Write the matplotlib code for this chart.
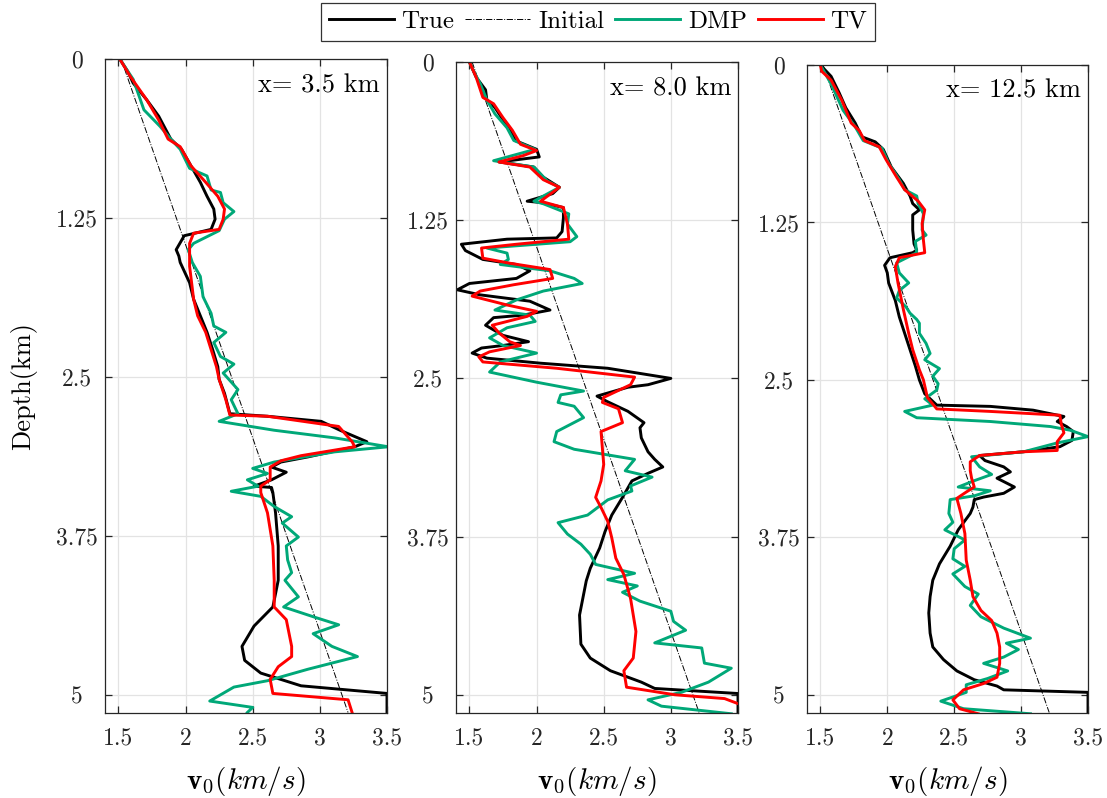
import matplotlib
matplotlib.use('Agg')
import matplotlib.pyplot as plt

plt.rcParams['font.family'] = ['cmr10', 'DejaVu Serif']
plt.rcParams['mathtext.fontset'] = 'cm'
plt.rcParams['axes.formatter.use_mathtext'] = True

# ---- data: depth (km) / velocity (km/s) per profile ----
titles = ['x= 3.5 km', 'x= 8.0 km', 'x= 12.5 km']
xticks = [1.5, 2, 2.5, 3, 3.5]
xticklabels = ['1.5', '2', '2.5', '3', '3.5']
yticks = [0, 1.25, 2.5, 3.75, 5]
yticklabels = ['0', '1.25', '2.5', '3.75', '5']

init_d = [0.0, 5.14]
init_v = [1.52, 3.21]

# x = 3.5 km
d1_true = [0.00, 0.10, 0.19, 0.32, 0.45, 0.63, 0.71, 0.84, 0.97, 1.08, 1.18, 1.26, 1.34, 1.39, 1.50, 1.55, 1.60,
           1.76, 1.89, 2.02, 2.15, 2.28, 2.42, 2.52, 2.63, 2.79, 2.81, 2.85, 2.92, 3.01, 3.05, 3.13, 3.17, 3.21,
           3.25, 3.31, 3.36, 3.37, 3.41, 3.57, 3.83, 4.10, 4.31, 4.46, 4.62, 4.73, 4.83, 4.93, 4.99, 5.14]
v1_true = [1.51, 1.57, 1.61, 1.71, 1.80, 1.89, 1.97, 2.04, 2.11, 2.16, 2.21, 2.22, 2.19, 1.99, 1.93, 1.95, 1.96,
           2.03, 2.06, 2.11, 2.16, 2.20, 2.24, 2.25, 2.29, 2.33, 2.61, 3.01, 3.15, 3.35, 3.26, 2.91, 2.71, 2.64,
           2.75, 2.64, 2.51, 2.64, 2.65, 2.67, 2.69, 2.69, 2.65, 2.51, 2.42, 2.44, 2.56, 2.86, 3.50, 3.50]
d1_dmp = [0.00, 0.16, 0.40, 0.53, 0.63, 0.71, 0.86, 0.92, 1.03, 1.05, 1.13, 1.20, 1.26, 1.35, 1.45, 1.50, 1.60,
          1.71, 1.87, 2.00, 2.10, 2.15, 2.23, 2.34, 2.40, 2.47, 2.60, 2.68, 2.79, 2.85, 2.92, 2.98, 3.05, 3.09,
          3.17, 3.22, 3.26, 3.31, 3.36, 3.40, 3.44, 3.52, 3.60, 3.65, 3.76, 3.83, 3.94, 4.04, 4.10, 4.23, 4.31,
          4.39, 4.45, 4.52, 4.62, 4.70, 4.80, 4.89, 4.94, 5.05, 5.10, 5.14]
v1_dmp = [1.51, 1.61, 1.69, 1.81, 1.89, 1.96, 2.03, 2.16, 2.19, 2.26, 2.28, 2.36, 2.29, 2.25, 2.06, 2.02, 2.05,
          2.11, 2.13, 2.19, 2.21, 2.30, 2.21, 2.26, 2.36, 2.28, 2.39, 2.34, 2.39, 2.25, 2.66, 3.11, 3.51, 3.11,
          2.66, 2.50, 2.61, 2.46, 2.54, 2.34, 2.56, 2.66, 2.79, 2.72, 2.84, 2.75, 2.76, 2.79, 2.74, 2.84, 2.73,
          2.96, 3.14, 2.95, 3.09, 3.28, 2.91, 2.61, 2.36, 2.18, 2.50, 2.46]
d1_tv = [0.00, 0.14, 0.32, 0.48, 0.63, 0.69, 0.84, 0.97, 1.08, 1.18, 1.26, 1.34, 1.37, 1.45, 1.63, 1.89, 2.02,
         2.15, 2.42, 2.52, 2.68, 2.80, 2.81, 2.89, 3.01, 3.05, 3.12, 3.16, 3.21, 3.31, 3.36, 3.41, 3.57, 3.83,
         4.10, 4.31, 4.41, 4.62, 4.70, 4.78, 4.88, 4.99, 5.04, 5.14]
v1_tv = [1.51, 1.59, 1.71, 1.80, 1.87, 1.96, 2.04, 2.15, 2.24, 2.29, 2.28, 2.25, 2.06, 2.03, 2.03, 2.06, 2.09,
         2.15, 2.23, 2.25, 2.30, 2.33, 2.61, 3.14, 3.24, 3.26, 2.86, 2.71, 2.63, 2.63, 2.56, 2.56, 2.61, 2.65,
         2.66, 2.66, 2.75, 2.79, 2.79, 2.69, 2.63, 2.65, 3.21, 3.24]

# x = 8.0 km
d2_true = [0.00, 0.12, 0.22, 0.30, 0.36, 0.44, 0.52, 0.62, 0.69, 0.75, 0.79, 0.83, 0.91, 0.99, 1.04, 1.10, 1.11,
           1.15, 1.23, 1.34, 1.39, 1.40, 1.44, 1.49, 1.56, 1.60, 1.65, 1.71, 1.75, 1.80, 1.84, 1.89, 1.96, 2.00,
           2.02, 2.08, 2.16, 2.21, 2.24, 2.26, 2.30, 2.34, 2.38, 2.42, 2.50, 2.55, 2.57, 2.64, 2.68, 2.76, 2.85,
           2.89, 2.97, 3.08, 3.14, 3.20, 3.25, 3.31, 3.44, 3.58, 3.71, 3.84, 4.00, 4.10, 4.37, 4.60, 4.71, 4.81,
           4.90, 4.95, 4.99, 5.15]
v2_true = [1.50, 1.55, 1.62, 1.63, 1.69, 1.74, 1.80, 1.84, 2.00, 2.02, 1.72, 1.98, 2.05, 2.17, 2.12, 1.93, 2.03,
           2.20, 2.20, 2.19, 2.15, 1.78, 1.44, 1.47, 1.60, 1.85, 1.95, 1.85, 1.50, 1.41, 1.58, 1.95, 2.10, 1.90,
           1.68, 1.62, 1.75, 1.94, 1.75, 1.59, 1.52, 1.63, 2.03, 2.53, 3.00, 2.83, 2.68, 2.45, 2.52, 2.68, 2.80,
           2.77, 2.78, 2.83, 2.88, 2.94, 2.83, 2.71, 2.64, 2.56, 2.51, 2.47, 2.40, 2.37, 2.32, 2.33, 2.40, 2.55,
           2.78, 2.88, 3.50, 3.50]
d2_dmp = [0.00, 0.07, 0.17, 0.30, 0.41, 0.52, 0.62, 0.69, 0.78, 0.83, 0.94, 0.99, 1.10, 1.12, 1.20, 1.28, 1.38,
          1.42, 1.47, 1.51, 1.56, 1.60, 1.65, 1.71, 1.75, 1.81, 1.88, 1.96, 2.00, 2.05, 2.10, 2.18, 2.24, 2.30,
          2.37, 2.45, 2.53, 2.60, 2.63, 2.69, 2.72, 2.81, 2.92, 3.00, 3.06, 3.14, 3.23, 3.28, 3.35, 3.39, 3.46,
          3.58, 3.64, 3.73, 3.81, 3.89, 3.97, 4.04, 4.09, 4.14, 4.19, 4.26, 4.34, 4.42, 4.49, 4.59, 4.63, 4.75,
          4.79, 4.90, 4.98, 5.04, 5.09, 5.15]
v2_dmp = [1.50, 1.53, 1.58, 1.63, 1.69, 1.78, 1.83, 1.99, 1.68, 1.98, 2.08, 2.17, 1.98, 2.05, 2.24, 2.23, 2.30,
          2.25, 1.63, 1.78, 1.79, 1.73, 2.10, 2.28, 2.34, 2.05, 1.85, 1.69, 1.95, 1.99, 1.78, 1.65, 1.75, 2.00,
          1.73, 1.65, 2.00, 2.35, 2.18, 2.16, 2.28, 2.35, 2.15, 2.13, 2.28, 2.73, 2.66, 2.86, 2.70, 2.71, 2.53,
          2.38, 2.16, 2.23, 2.33, 2.40, 2.44, 2.73, 2.53, 2.75, 2.64, 2.77, 3.00, 3.02, 3.11, 2.88, 3.23, 3.25,
          3.45, 3.28, 3.08, 2.83, 2.93, 3.45]
d2_tv = [0.00, 0.12, 0.28, 0.33, 0.44, 0.54, 0.65, 0.70, 0.74, 0.79, 0.83, 0.93, 0.99, 1.10, 1.15, 1.28, 1.40,
         1.44, 1.47, 1.55, 1.59, 1.64, 1.71, 1.76, 1.81, 1.85, 1.92, 1.97, 2.01, 2.08, 2.14, 2.21, 2.24, 2.29,
         2.33, 2.37, 2.42, 2.49, 2.55, 2.65, 2.69, 2.74, 2.85, 2.92, 3.05, 3.18, 3.31, 3.44, 3.52, 3.63, 3.76,
         3.92, 4.05, 4.24, 4.50, 4.71, 4.81, 4.94, 5.00, 5.03, 5.07]
v2_tv = [1.50, 1.55, 1.60, 1.68, 1.75, 1.82, 1.88, 2.00, 1.90, 1.72, 1.95, 2.05, 2.17, 2.03, 2.20, 2.23, 2.24,
         1.85, 1.59, 1.60, 1.80, 2.10, 2.12, 1.83, 1.58, 1.52, 1.78, 2.00, 1.93, 1.67, 1.72, 1.80, 1.88, 1.65,
         1.57, 1.60, 2.15, 2.73, 2.70, 2.50, 2.49, 2.61, 2.64, 2.48, 2.49, 2.50, 2.48, 2.44, 2.48, 2.53, 2.56,
         2.59, 2.65, 2.70, 2.74, 2.72, 2.65, 2.67, 3.03, 3.40, 3.50]

# x = 12.5 km
d3_true = [0.00, 0.09, 0.22, 0.34, 0.46, 0.57, 0.61, 0.67, 0.81, 0.94, 1.04, 1.10, 1.15, 1.19, 1.31, 1.42, 1.47,
           1.49, 1.53, 1.59, 1.65, 1.73, 1.87, 2.00, 2.13, 2.26, 2.39, 2.50, 2.61, 2.70, 2.71, 2.74, 2.79, 2.83,
           2.87, 2.91, 2.98, 3.03, 3.07, 3.10, 3.14, 3.19, 3.23, 3.28, 3.35, 3.40, 3.43, 3.45, 3.51, 3.56, 3.69,
           3.82, 3.96, 4.09, 4.22, 4.35, 4.51, 4.62, 4.72, 4.81, 4.88, 4.93, 4.96, 4.98, 5.15]
v3_true = [1.50, 1.58, 1.64, 1.69, 1.76, 1.81, 1.91, 1.97, 2.03, 2.12, 2.17, 2.19, 2.24, 2.19, 2.19, 2.20, 2.22,
           2.19, 2.02, 1.98, 2.00, 2.01, 2.06, 2.09, 2.13, 2.17, 2.21, 2.24, 2.28, 2.37, 2.77, 3.09, 3.32, 3.27,
           3.34, 3.39, 3.38, 3.29, 3.02, 2.69, 2.73, 2.87, 2.92, 2.82, 2.95, 2.87, 2.72, 2.65, 2.64, 2.62, 2.53,
           2.47, 2.39, 2.34, 2.32, 2.31, 2.32, 2.34, 2.42, 2.52, 2.65, 2.82, 2.87, 3.50, 3.50]
d3_dmp = [0.00, 0.15, 0.36, 0.49, 0.60, 0.66, 0.78, 0.91, 0.99, 1.04, 1.10, 1.18, 1.31, 1.35, 1.40, 1.49, 1.57,
          1.65, 1.73, 1.79, 1.85, 1.92, 1.97, 2.02, 2.05, 2.13, 2.21, 2.29, 2.34, 2.41, 2.47, 2.53, 2.58, 2.65,
          2.70, 2.75, 2.80, 2.83, 2.87, 2.90, 2.95, 3.00, 3.07, 3.11, 3.19, 3.25, 3.30, 3.35, 3.38, 3.42, 3.45,
          3.56, 3.63, 3.69, 3.77, 3.84, 3.92, 3.98, 4.04, 4.14, 4.20, 4.29, 4.38, 4.47, 4.55, 4.59, 4.64, 4.70,
          4.75, 4.81, 4.87, 4.92, 4.98, 5.05, 5.11, 5.15]
v3_dmp = [1.50, 1.58, 1.67, 1.76, 1.82, 1.96, 2.01, 2.09, 2.13, 2.22, 2.23, 2.27, 2.26, 2.29, 2.21, 2.22, 2.07,
          2.09, 2.16, 2.09, 2.07, 2.14, 2.17, 2.22, 2.24, 2.24, 2.29, 2.32, 2.28, 2.39, 2.34, 2.38, 2.37, 2.28,
          2.34, 2.13, 2.22, 2.77, 3.22, 3.37, 3.50, 3.27, 3.02, 2.63, 2.69, 2.78, 2.65, 2.53, 2.77, 2.65, 2.47,
          2.46, 2.49, 2.43, 2.58, 2.50, 2.49, 2.58, 2.49, 2.58, 2.68, 2.62, 2.70, 2.87, 3.07, 2.89, 2.98, 2.87,
          2.72, 2.90, 2.75, 2.59, 2.59, 2.40, 2.57, 3.07]
d3_tv = [0.00, 0.05, 0.12, 0.28, 0.46, 0.52, 0.60, 0.65, 0.75, 0.89, 0.99, 1.08, 1.15, 1.26, 1.39, 1.49, 1.53,
         1.60, 1.73, 1.94, 2.13, 2.26, 2.42, 2.50, 2.64, 2.73, 2.75, 2.78, 2.85, 2.92, 2.99, 3.06, 3.07, 3.10,
         3.15, 3.22, 3.28, 3.35, 3.39, 3.44, 3.56, 3.72, 3.93, 4.09, 4.22, 4.33, 4.41, 4.51, 4.62, 4.75, 4.86,
         4.91, 4.96, 5.04, 5.11, 5.15]
v3_tv = [1.50, 1.51, 1.58, 1.66, 1.73, 1.79, 1.83, 1.94, 1.99, 2.07, 2.13, 2.23, 2.28, 2.26, 2.27, 2.28, 2.09,
         2.06, 2.08, 2.12, 2.16, 2.19, 2.24, 2.27, 2.30, 2.37, 2.77, 3.29, 3.30, 3.32, 3.27, 3.27, 3.02, 2.69,
         2.62, 2.62, 2.63, 2.65, 2.59, 2.52, 2.55, 2.58, 2.59, 2.62, 2.64, 2.70, 2.78, 2.82, 2.84, 2.84, 2.82,
         2.72, 2.57, 2.49, 2.54, 2.68]

profiles = [
    (d1_true, v1_true, d1_dmp, v1_dmp, d1_tv, v1_tv),
    (d2_true, v2_true, d2_dmp, v2_dmp, d2_tv, v2_tv),
    (d3_true, v3_true, d3_dmp, v3_dmp, d3_tv, v3_tv),
]

green = '#00A878'
W, H = 1107, 798
# axes boxes in pixels: left, right, top, bottom
boxes = [(105, 387, 59, 712.5), (456, 738, 62, 712.5), (807, 1088, 65, 712.5)]

fig = plt.figure(figsize=(W / 100, H / 100), dpi=100)

axes = []
for k, (l, r, t, b) in enumerate(boxes):
    ax = fig.add_axes([l / W, 1 - b / H, (r - l) / W, (b - t) / H])
    axes.append(ax)
    dt, vt, dd, vd, dtv, vtv = profiles[k]
    ax.plot(vt, dt, color='black', lw=2.1, label='True')
    ax.plot(init_v, init_d, color='black', lw=0.7, ls='-.', label='Initial')
    ax.plot(vd, dd, color=green, lw=2.1, label='DMP')
    ax.plot(vtv, dtv, color='red', lw=2.1, label='TV')

    ax.set_xlim(1.4, 3.5)
    ax.set_ylim(5.14, 0)
    ax.set_xticks(xticks)
    ax.set_xticklabels(xticklabels)
    ax.set_yticks(yticks)
    ax.set_yticklabels(yticklabels)
    ax.grid(True, color='#e3e3e3', lw=0.9)
    ax.set_axisbelow(True)
    ax.tick_params(direction='in', length=5, width=0.9, colors='#262626',
                   top=True, right=True, labelsize=17)
    ax.tick_params(axis='x', pad=11)
    ax.tick_params(axis='y', pad=20)
    for lbl in ax.get_yticklabels():
        lbl.set_ha('center')
    for sp in ax.spines.values():
        sp.set_color('#262626')
        sp.set_linewidth(0.9)
    ax.text(0.975, 0.978, titles[k], transform=ax.transAxes, ha='right', va='top', fontsize=19)
    ax.set_xlabel(r'$\mathbf{v}_0(km/s)$', fontsize=21, labelpad=10)

axes[0].set_ylabel('Depth(km)', fontsize=19, labelpad=14)

h, lab = axes[0].get_legend_handles_labels()
leg = fig.legend(h, lab, loc='upper center', bbox_to_anchor=(598 / W, 1 - 3 / H), ncol=4,
                 fontsize=18, frameon=True, fancybox=False, edgecolor='black', borderaxespad=0,
                 handlelength=2.6, handletextpad=0.3, columnspacing=0.45, borderpad=0.3)
leg.get_frame().set_linewidth(0.9)

fig.savefig('out.png', dpi=100)
